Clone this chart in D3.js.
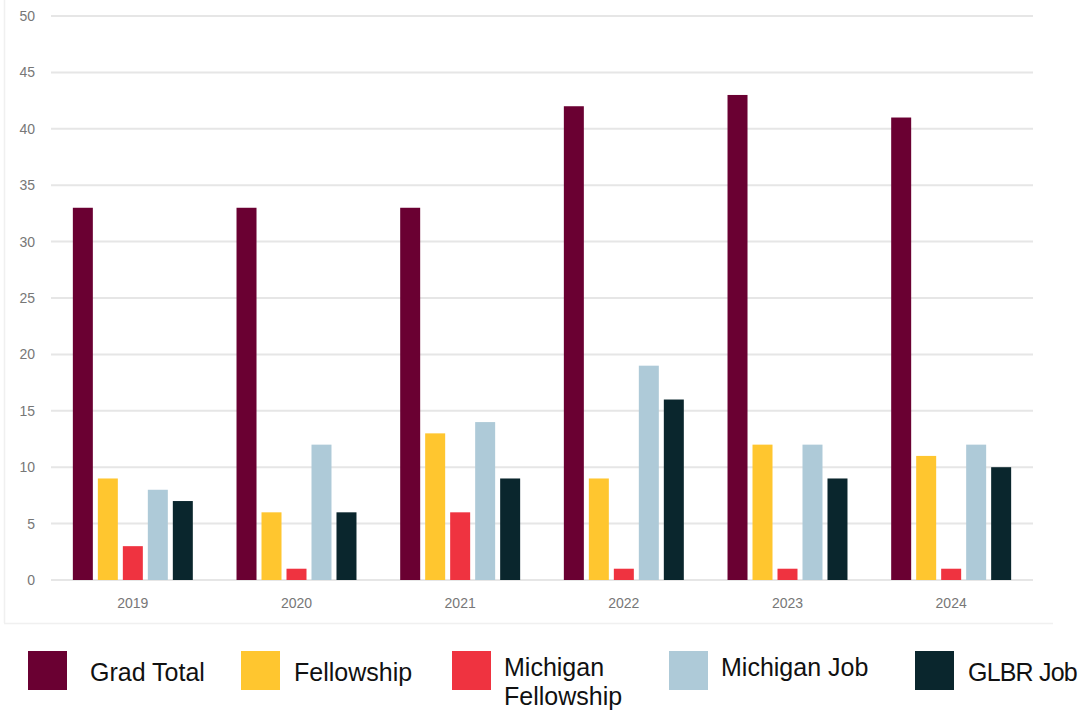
<!DOCTYPE html>
<html>
<head>
<meta charset="utf-8">
<script src="https://cdn.jsdelivr.net/npm/d3@7/dist/d3.min.js"></script>
<style>
  html, body { margin: 0; padding: 0; background: #fff; }
  svg { display: block; }
</style>
</head>
<body>
<svg id="chart" width="1085" height="713"></svg>
<script>
const years = ["2019", "2020", "2021", "2022", "2023", "2024"];
const seriesNames = ["Grad Total", "Fellowship", "Michigan Fellowship", "Michigan Job", "GLBR Job"];
const gradTotal = [33, 33, 33, 42, 43, 41];
const fellowship = [9, 6, 13, 9, 12, 11];
const michiganFellowship = [3, 1, 6, 1, 1, 1];
const michiganJob = [8, 12, 14, 19, 12, 12];
const glbrJob = [7, 6, 9, 16, 9, 10];
const yTicks = [0, 5, 10, 15, 20, 25, 30, 35, 40, 45, 50];
const colors = ["#6a0032", "#ffc62f", "#ef3340", "#aecad8", "#0a262d"];

(function () {
const seriesValues = [gradTotal, fellowship, michiganFellowship, michiganJob, glbrJob];
const data = years.map((yr, i) => ({
  year: yr,
  values: seriesNames.map((s, j) => ({ key: s, value: seriesValues[j][i], color: colors[j] }))
}));

const svg = d3.select("#chart");

// faint frame of the pasted screenshot
svg.append("line").attr("x1", 4.5).attr("x2", 4.5).attr("y1", 0).attr("y2", 623)
  .attr("stroke", "#f0f0f0").attr("stroke-width", 1.5);
svg.append("line").attr("x1", 4).attr("x2", 1053).attr("y1", 623.5).attr("y2", 623.5)
  .attr("stroke", "#f0f0f0").attr("stroke-width", 1.5);

const mLeft = 51, mRight = 1033, mTop = 16, mBottom = 580;

const y = d3.scaleLinear().domain([0, 50]).range([mBottom, mTop]);
const x0 = d3.scaleBand().domain(years).range([mLeft, mRight]).paddingInner(0.267).paddingOuter(0.1335);
const x1 = d3.scaleBand().domain(seriesNames).range([0, x0.bandwidth()]).paddingInner(0.2).paddingOuter(0);

// gridlines
svg.append("g").selectAll("line").data(yTicks).join("line")
  .attr("x1", mLeft).attr("x2", mRight)
  .attr("y1", d => y(d)).attr("y2", d => y(d))
  .attr("stroke", "#e6e6e6").attr("stroke-width", 2);

// y axis labels
const yAxis = d3.axisLeft(y).tickValues(yTicks).tickSize(0).tickPadding(0);
const gy = svg.append("g").attr("transform", "translate(35,0)").call(yAxis);
gy.select(".domain").remove();
gy.selectAll("text").attr("font-family", "Liberation Sans, Arial, sans-serif")
  .attr("font-size", 14).attr("fill", "#777");

// bars
const groups = svg.append("g").selectAll("g").data(data).join("g")
  .attr("transform", d => `translate(${x0(d.year)},0)`);
groups.selectAll("rect").data(d => d.values).join("rect")
  .attr("x", d => x1(d.key))
  .attr("width", x1.bandwidth())
  .attr("y", d => y(d.value))
  .attr("height", d => y(0) - y(d.value))
  .attr("fill", d => d.color);

// x axis labels
const xAxis = d3.axisBottom(x0).tickSize(0).tickPadding(0);
const gx = svg.append("g").attr("transform", `translate(0,${mBottom + 18})`).call(xAxis);
gx.select(".domain").remove();
gx.selectAll("text").attr("font-family", "Liberation Sans, Arial, sans-serif")
  .attr("font-size", 14).attr("fill", "#777");

// legend
const legendItems = [
  { name: ["Grad Total"], color: colors[0], sx: 28, tx: 90, ty: 681, ls: 0 },
  { name: ["Fellowship"], color: colors[1], sx: 241, tx: 294, ty: 681, ls: 0 },
  { name: ["Michigan", "Fellowship"], color: colors[2], sx: 452, tx: 504, ty: 676, ls: 0 },
  { name: ["Michigan Job"], color: colors[3], sx: 669, tx: 721, ty: 676, ls: 0 },
  { name: ["GLBR Job"], color: colors[4], sx: 915, tx: 968, ty: 681, ls: -0.8 }
];
const lg = svg.append("g").selectAll("g").data(legendItems).join("g");
lg.append("rect").attr("x", d => d.sx).attr("y", 651).attr("width", 39).attr("height", 39)
  .attr("fill", d => d.color);
lg.each(function (d) {
  const t = d3.select(this).append("text")
    .attr("font-family", "Liberation Sans, Arial, sans-serif")
    .attr("font-size", 25).attr("letter-spacing", d.ls).attr("fill", "#111");
  d.name.forEach((line, k) => {
    t.append("tspan").attr("x", d.tx).attr("y", d.ty + k * 29).text(line);
  });
});
})();
</script>
</body>
</html>
